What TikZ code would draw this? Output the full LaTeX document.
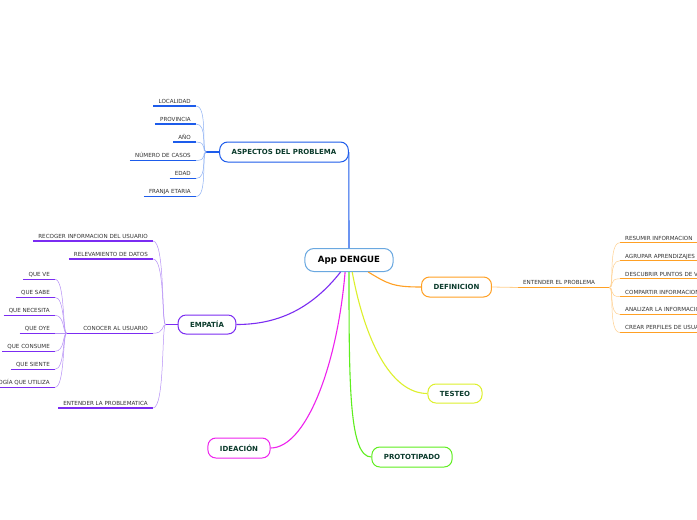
\documentclass[tikz,border=0pt]{standalone}
\usepackage{fontspec}
\setmainfont{DejaVu Sans}
\usetikzlibrary{positioning}
\definecolor{appblue}{HTML}{6AA8E0}
\definecolor{aspblue}{HTML}{1D5CEB}
\definecolor{aspblue2}{HTML}{8DB0F4}
\definecolor{defor}{HTML}{FFA024}
\definecolor{defor2}{HTML}{FFD08F}
\definecolor{emppurple}{HTML}{7B2CF2}
\definecolor{emppurple2}{HTML}{B690F6}
\definecolor{testyellow}{HTML}{DDF02C}
\definecolor{protgreen}{HTML}{5EEE1E}
\definecolor{ideamag}{HTML}{EE22EE}
\definecolor{topictext}{HTML}{0B3B2C}
\definecolor{leafgray}{HTML}{333333}

\begin{document}
\begin{tikzpicture}[
    x=1pt, y=-1pt,
    every node/.style={inner sep=0pt},
    topic/.style={draw=#1, fill=white, line width=1pt, rounded corners=8pt, minimum height=20pt,
                  inner xsep=12pt, text=topictext, font=\fontsize{7}{8}\selectfont\bfseries},
    leaf/.style={text=leafgray, font=\fontsize{5.6}{6}\selectfont, inner xsep=5pt, inner ysep=2.5pt,
                 text depth=0pt,
                 append after command={(\tikzlastnode.south west) edge[draw=#1, line width=1.2pt] (\tikzlastnode.south east)}},
    leafL/.style={leaf=#1, anchor=south east},
    leafR/.style={leaf=#1, anchor=south west},
    branch/.style={draw=#1, line width=1.1pt},
    twig/.style={draw=#1, line width=0.5pt},
]

% Page
\useasboundingbox (0,0) rectangle (697,520);
\clip (0,0) rectangle (697,520);
\fill[white] (0,0) rectangle (697,520);

% =============================================
% CENTRE
% =============================================
\node[topic=appblue, text=black, rounded corners=9pt, minimum height=23pt, inner xsep=13pt,
      font=\fontsize{8.6}{10}\selectfont\bfseries] (app) at (349,260) {App DENGUE};

% Main topics
\node[topic=aspblue] (aspectos) at (284,152) {ASPECTOS DEL PROBLEMA};
\node[topic=defor] (definicion) at (456.5,287) {DEFINICION};
\node[topic=emppurple, minimum height=19pt] (empatia) at (207,324.5) {EMPATÍA};
\node[topic=testyellow, minimum height=19pt] (testeo) at (455,393.5) {TESTEO};
\node[topic=protgreen] (prototipado) at (412,457) {PROTOTIPADO};
\node[topic=ideamag] (ideacion) at (239,448) {IDEACIÓN};

% Branches from centre
\draw[branch=aspblue] (app.north) -- (aspectos.east);
\draw[branch=defor] (app.-32) .. controls +(20,12) and +(-28,0) .. (definicion.west);
\draw[branch=emppurple] (app.-125) .. controls +(-30,38) and +(40,0) .. (empatia.east);
\draw[branch=ideamag] (app.-108) .. controls +(-8,95) and +(35,0) .. (ideacion.east);
\draw[branch=protgreen] (app.-90) .. controls +(0,115) and +(-22,0) .. (prototipado.west);
\draw[branch=testyellow] (app.-75) .. controls +(12,65) and +(-38,0) .. (testeo.west);

% =============================================
% ASPECTOS DEL PROBLEMA
% =============================================
\coordinate[left=13pt of aspectos.west] (asphub);
\draw[branch=aspblue] (aspectos.west) -- (asphub);

\node[leafL=aspblue] (loc) at (196,106) {LOCALIDAD};
\node[leafL=aspblue] (prov) at (196,124) {PROVINCIA};
\node[leafL=aspblue] (anio) at (196,142) {AÑO};
\node[leafL=aspblue] (casos) at (196,160.5) {NÚMERO DE CASOS};
\node[leafL=aspblue] (edad) at (196,178.5) {EDAD};
\node[leafL=aspblue] (franja) at (196,196.5) {FRANJA ETARIA};

\draw[twig=aspblue2] (asphub) .. controls +(-5,0) and +(12,0) .. (loc.south east);
\draw[twig=aspblue2] (asphub) .. controls +(-5,0) and +(12,0) .. (prov.south east);
\draw[twig=aspblue2] (asphub) .. controls +(-5,0) and +(12,0) .. (anio.south east);
\draw[twig=aspblue2] (asphub) .. controls +(-5,0) and +(12,0) .. (casos.south east);
\draw[twig=aspblue2] (asphub) .. controls +(-5,0) and +(12,0) .. (edad.south east);
\draw[twig=aspblue2] (asphub) .. controls +(-5,0) and +(12,0) .. (franja.south east);

% =============================================
% DEFINICION
% =============================================
\node[leafR=defor, text width=81pt, align=left] (entprob) at (518,287.5) {ENTENDER EL PROBLEMA};
\draw[twig=defor2, line width=0.8pt] (definicion.east) -- (entprob.south west);

\node[leafR=defor] (resumir) at (620,242.7) {RESUMIR INFORMACION};
\node[leafR=defor] (agrupar) at (620,260.7) {AGRUPAR APRENDIZAJES};
\node[leafR=defor] (descubrir) at (620,278.7) {DESCUBRIR PUNTOS DE VISTA};
\node[leafR=defor] (compartir) at (620,296.7) {COMPARTIR INFORMACION};
\node[leafR=defor] (analizar) at (620,314.5) {ANALIZAR LA INFORMACION};
\node[leafR=defor] (crear) at (620,332.5) {CREAR PERFILES DE USUARIO};

\draw[twig=defor2] (entprob.south east) .. controls +(5,0) and +(-12,0) .. (resumir.south west);
\draw[twig=defor2] (entprob.south east) .. controls +(5,0) and +(-12,0) .. (agrupar.south west);
\draw[twig=defor2] (entprob.south east) .. controls +(5,0) and +(-12,0) .. (descubrir.south west);
\draw[twig=defor2] (entprob.south east) .. controls +(5,0) and +(-12,0) .. (compartir.south west);
\draw[twig=defor2] (entprob.south east) .. controls +(5,0) and +(-12,0) .. (analizar.south west);
\draw[twig=defor2] (entprob.south east) .. controls +(5,0) and +(-12,0) .. (crear.south west);

% =============================================
% EMPATIA
% =============================================
\coordinate[left=12pt of empatia.west] (emphub);
\draw[branch=emppurple] (empatia.west) -- (emphub);

\node[leafL=emppurple] (recoger) at (153,241) {RECOGER INFORMACION DEL USUARIO};
\node[leafL=emppurple] (relev) at (153,259) {RELEVAMIENTO DE DATOS};
\node[leafL=emppurple, text width=76pt, align=right] (conocer) at (153,333.3) {CONOCER AL USUARIO};
\node[leafL=emppurple] (entender) at (153,408) {ENTENDER LA PROBLEMATICA};

\draw[twig=emppurple2] (emphub) .. controls +(-4,0) and +(12,0) .. (recoger.south east);
\draw[twig=emppurple2] (emphub) .. controls +(-4,0) and +(12,0) .. (relev.south east);
\draw[twig=emppurple2] (emphub) .. controls +(-4,0) and +(12,0) .. (conocer.south east);
\draw[twig=emppurple2] (emphub) .. controls +(-4,0) and +(12,0) .. (entender.south east);

% Conocer al usuario
\node[leafL=emppurple] (queve) at (55,279.3) {QUE VE};
\node[leafL=emppurple] (quesabe) at (55,297.3) {QUE SABE};
\node[leafL=emppurple] (quenecesita) at (55,315.3) {QUE NECESITA};
\node[leafL=emppurple] (queoye) at (55,333.3) {QUE OYE};
\node[leafL=emppurple] (queconsume) at (55,351.3) {QUE CONSUME};
\node[leafL=emppurple] (quesiente) at (55,369.3) {QUE SIENTE};
\node[leafL=emppurple] (tecno) at (55,387.3) {TECNOLOGÍA QUE UTILIZA};

\draw[twig=emppurple2] (conocer.south west) .. controls +(-4,0) and +(10,0) .. (queve.south east);
\draw[twig=emppurple2] (conocer.south west) .. controls +(-4,0) and +(10,0) .. (quesabe.south east);
\draw[twig=emppurple2] (conocer.south west) .. controls +(-4,0) and +(10,0) .. (quenecesita.south east);
\draw[twig=emppurple2] (conocer.south west) -- (queoye.south east);
\draw[twig=emppurple2] (conocer.south west) .. controls +(-4,0) and +(10,0) .. (queconsume.south east);
\draw[twig=emppurple2] (conocer.south west) .. controls +(-4,0) and +(10,0) .. (quesiente.south east);
\draw[twig=emppurple2] (conocer.south west) .. controls +(-4,0) and +(10,0) .. (tecno.south east);

\end{tikzpicture}
\end{document}
